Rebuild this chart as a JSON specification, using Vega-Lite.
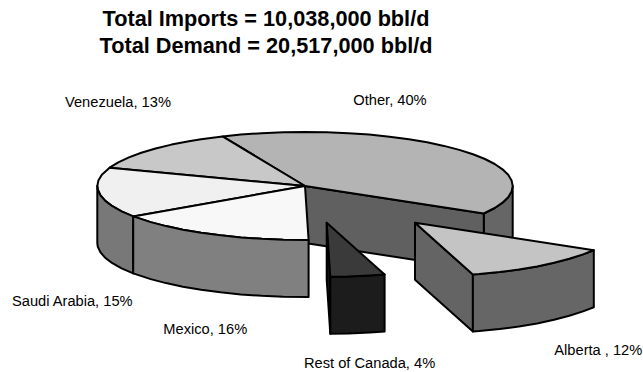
{
"$schema":"https://vega.github.io/schema/vega-lite/v6.json",
"width":643,"height":372,"padding":0,"autosize":{"type":"none"},
"background":"white",
"title":{"text":["Total Imports = 10,038,000 bbl/d","Total Demand = 20,517,000 bbl/d"],"font":"Liberation Sans","fontSize":21.7,"fontWeight":"bold","color":"#000000","anchor":"start","frame":"group","dx":266,"dy":79,"lineHeight":27.6,"align":"center","baseline":"alphabetic"},
"config":{"view":{"stroke":null}},
"datasets":{
"faces":[
{"face":"Other rim","v":0,"x":512.7,"y":186},{"face":"Other rim","v":1,"x":511.6,"y":191.6},{"face":"Other rim","v":2,"x":508.2,"y":197.2},{"face":"Other rim","v":3,"x":502.5,"y":202.7},{"face":"Other rim","v":4,"x":494.7,"y":208},{"face":"Other rim","v":5,"x":483.8,"y":213.5},{"face":"Other rim","v":6,"x":483.8,"y":270.5},{"face":"Other rim","v":7,"x":494.7,"y":265},{"face":"Other rim","v":8,"x":502.5,"y":259.7},{"face":"Other rim","v":9,"x":508.2,"y":254.2},{"face":"Other rim","v":10,"x":511.6,"y":248.6},{"face":"Other rim","v":11,"x":512.7,"y":243},
{"face":"Other cut","v":0,"x":305,"y":186},{"face":"Other cut","v":1,"x":483.8,"y":213.5},{"face":"Other cut","v":2,"x":483.8,"y":270.5},{"face":"Other cut","v":3,"x":305,"y":243},
{"face":"Other top","v":0,"x":305,"y":186},{"face":"Other top","v":1,"x":222.5,"y":136.4},{"face":"Other top","v":2,"x":240.8,"y":134.6},{"face":"Other top","v":3,"x":261.8,"y":133.2},{"face":"Other top","v":4,"x":283.3,"y":132.3},{"face":"Other top","v":5,"x":305,"y":132},{"face":"Other top","v":6,"x":326.7,"y":132.3},{"face":"Other top","v":7,"x":348.2,"y":133.2},{"face":"Other top","v":8,"x":369.2,"y":134.6},{"face":"Other top","v":9,"x":389.5,"y":136.7},{"face":"Other top","v":10,"x":408.9,"y":139.2},{"face":"Other top","v":11,"x":427.1,"y":142.3},{"face":"Other top","v":12,"x":444,"y":145.9},{"face":"Other top","v":13,"x":459.3,"y":149.9},{"face":"Other top","v":14,"x":473,"y":154.3},{"face":"Other top","v":15,"x":484.9,"y":159},{"face":"Other top","v":16,"x":494.7,"y":164},{"face":"Other top","v":17,"x":502.5,"y":169.3},{"face":"Other top","v":18,"x":508.2,"y":174.8},{"face":"Other top","v":19,"x":511.6,"y":180.4},{"face":"Other top","v":20,"x":512.7,"y":186},{"face":"Other top","v":21,"x":511.6,"y":191.6},{"face":"Other top","v":22,"x":508.2,"y":197.2},{"face":"Other top","v":23,"x":502.5,"y":202.7},{"face":"Other top","v":24,"x":494.7,"y":208},{"face":"Other top","v":25,"x":483.8,"y":213.5},
{"face":"Venezuela top","v":0,"x":305,"y":186},{"face":"Venezuela top","v":1,"x":109.6,"y":167.7},{"face":"Venezuela top","v":2,"x":118.3,"y":162.3},{"face":"Venezuela top","v":3,"x":128.9,"y":157.4},{"face":"Venezuela top","v":4,"x":141.3,"y":152.8},{"face":"Venezuela top","v":5,"x":155.6,"y":148.5},{"face":"Venezuela top","v":6,"x":171.5,"y":144.6},{"face":"Venezuela top","v":7,"x":188.9,"y":141.2},{"face":"Venezuela top","v":8,"x":201.1,"y":139.2},{"face":"Venezuela top","v":9,"x":222.5,"y":136.4},
{"face":"Saudi top","v":0,"x":305,"y":186},{"face":"Saudi top","v":1,"x":133.2,"y":216.4},{"face":"Saudi top","v":2,"x":121.6,"y":211.4},{"face":"Saudi top","v":3,"x":112.4,"y":206.2},{"face":"Saudi top","v":4,"x":105.3,"y":200.9},{"face":"Saudi top","v":5,"x":100.5,"y":195.4},{"face":"Saudi top","v":6,"x":97.8,"y":189.8},{"face":"Saudi top","v":7,"x":97.3,"y":186},{"face":"Saudi top","v":8,"x":98.4,"y":180.4},{"face":"Saudi top","v":9,"x":101.8,"y":174.8},{"face":"Saudi top","v":10,"x":109.6,"y":167.7},
{"face":"Mexico top","v":0,"x":305,"y":186},{"face":"Mexico top","v":1,"x":308.6,"y":240},{"face":"Mexico top","v":2,"x":283.3,"y":239.7},{"face":"Mexico top","v":3,"x":261.8,"y":238.8},{"face":"Mexico top","v":4,"x":240.8,"y":237.4},{"face":"Mexico top","v":5,"x":220.5,"y":235.3},{"face":"Mexico top","v":6,"x":201.1,"y":232.8},{"face":"Mexico top","v":7,"x":182.9,"y":229.7},{"face":"Mexico top","v":8,"x":166,"y":226.1},{"face":"Mexico top","v":9,"x":150.7,"y":222.1},{"face":"Mexico top","v":10,"x":133.2,"y":216.4},
{"face":"Saudi rim","v":0,"x":133.2,"y":216.4},{"face":"Saudi rim","v":1,"x":121.6,"y":211.4},{"face":"Saudi rim","v":2,"x":112.4,"y":206.2},{"face":"Saudi rim","v":3,"x":105.3,"y":200.9},{"face":"Saudi rim","v":4,"x":100.5,"y":195.4},{"face":"Saudi rim","v":5,"x":97.8,"y":189.8},{"face":"Saudi rim","v":6,"x":97.3,"y":186},{"face":"Saudi rim","v":7,"x":97.3,"y":243},{"face":"Saudi rim","v":8,"x":97.8,"y":246.8},{"face":"Saudi rim","v":9,"x":100.5,"y":252.4},{"face":"Saudi rim","v":10,"x":105.3,"y":257.9},{"face":"Saudi rim","v":11,"x":112.4,"y":263.2},{"face":"Saudi rim","v":12,"x":121.6,"y":268.4},{"face":"Saudi rim","v":13,"x":133.2,"y":273.4},
{"face":"Mexico rim","v":0,"x":308.6,"y":240},{"face":"Mexico rim","v":1,"x":283.3,"y":239.7},{"face":"Mexico rim","v":2,"x":261.8,"y":238.8},{"face":"Mexico rim","v":3,"x":240.8,"y":237.4},{"face":"Mexico rim","v":4,"x":220.5,"y":235.3},{"face":"Mexico rim","v":5,"x":201.1,"y":232.8},{"face":"Mexico rim","v":6,"x":182.9,"y":229.7},{"face":"Mexico rim","v":7,"x":166,"y":226.1},{"face":"Mexico rim","v":8,"x":150.7,"y":222.1},{"face":"Mexico rim","v":9,"x":133.2,"y":216.4},{"face":"Mexico rim","v":10,"x":133.2,"y":273.4},{"face":"Mexico rim","v":11,"x":150.7,"y":279.1},{"face":"Mexico rim","v":12,"x":166,"y":283.1},{"face":"Mexico rim","v":13,"x":182.9,"y":286.7},{"face":"Mexico rim","v":14,"x":201.1,"y":289.8},{"face":"Mexico rim","v":15,"x":220.5,"y":292.3},{"face":"Mexico rim","v":16,"x":240.8,"y":294.4},{"face":"Mexico rim","v":17,"x":261.8,"y":295.8},{"face":"Mexico rim","v":18,"x":283.3,"y":296.7},{"face":"Mexico rim","v":19,"x":308.6,"y":297},
{"face":"Canada cut","v":0,"x":326.7,"y":222.7},{"face":"Canada cut","v":1,"x":330.3,"y":276.7},{"face":"Canada cut","v":2,"x":330.3,"y":333.7},{"face":"Canada cut","v":3,"x":326.7,"y":279.7},
{"face":"Canada rim","v":0,"x":384.6,"y":274.6},{"face":"Canada rim","v":1,"x":369.9,"y":275.5},{"face":"Canada rim","v":2,"x":348.4,"y":276.4},{"face":"Canada rim","v":3,"x":330.3,"y":276.7},{"face":"Canada rim","v":4,"x":330.3,"y":333.7},{"face":"Canada rim","v":5,"x":348.4,"y":333.4},{"face":"Canada rim","v":6,"x":369.9,"y":332.5},{"face":"Canada rim","v":7,"x":384.6,"y":331.6},
{"face":"Canada top","v":0,"x":326.7,"y":222.7},{"face":"Canada top","v":1,"x":384.6,"y":274.6},{"face":"Canada top","v":2,"x":369.9,"y":275.5},{"face":"Canada top","v":3,"x":348.4,"y":276.4},{"face":"Canada top","v":4,"x":330.3,"y":276.7},
{"face":"Alberta cut","v":0,"x":415,"y":222.7},{"face":"Alberta cut","v":1,"x":472.9,"y":274.6},{"face":"Alberta cut","v":2,"x":472.9,"y":331.6},{"face":"Alberta cut","v":3,"x":415,"y":279.7},
{"face":"Alberta rim","v":0,"x":593.8,"y":250.2},{"face":"Alberta rim","v":1,"x":583,"y":254.4},{"face":"Alberta rim","v":2,"x":569.3,"y":258.8},{"face":"Alberta rim","v":3,"x":554,"y":262.8},{"face":"Alberta rim","v":4,"x":537.1,"y":266.4},{"face":"Alberta rim","v":5,"x":518.9,"y":269.5},{"face":"Alberta rim","v":6,"x":499.5,"y":272},{"face":"Alberta rim","v":7,"x":479.2,"y":274.1},{"face":"Alberta rim","v":8,"x":472.9,"y":274.6},{"face":"Alberta rim","v":9,"x":472.9,"y":331.6},{"face":"Alberta rim","v":10,"x":479.2,"y":331.1},{"face":"Alberta rim","v":11,"x":499.5,"y":329},{"face":"Alberta rim","v":12,"x":518.9,"y":326.5},{"face":"Alberta rim","v":13,"x":537.1,"y":323.4},{"face":"Alberta rim","v":14,"x":554,"y":319.8},{"face":"Alberta rim","v":15,"x":569.3,"y":315.8},{"face":"Alberta rim","v":16,"x":583,"y":311.4},{"face":"Alberta rim","v":17,"x":593.8,"y":307.2},
{"face":"Alberta top","v":0,"x":415,"y":222.7},{"face":"Alberta top","v":1,"x":593.8,"y":250.2},{"face":"Alberta top","v":2,"x":583,"y":254.4},{"face":"Alberta top","v":3,"x":569.3,"y":258.8},{"face":"Alberta top","v":4,"x":554,"y":262.8},{"face":"Alberta top","v":5,"x":537.1,"y":266.4},{"face":"Alberta top","v":6,"x":518.9,"y":269.5},{"face":"Alberta top","v":7,"x":499.5,"y":272},{"face":"Alberta top","v":8,"x":479.2,"y":274.1},{"face":"Alberta top","v":9,"x":472.9,"y":274.6}
],
"labels":[
{"label":"Venezuela, 13%","x":65,"y":107},
{"label":"Other, 40%","x":353.3,"y":105},
{"label":"Alberta , 12%","x":554.3,"y":355},
{"label":"Rest of Canada, 4%","x":304,"y":368.3},
{"label":"Mexico, 16%","x":163.3,"y":334},
{"label":"Saudi Arabia, 15%","x":12,"y":306}
]
},
"layer":[
{"data":{"name":"faces"},
"mark":{"type":"line","interpolate":"linear-closed","stroke":"#000000","strokeWidth":2,"strokeJoin":"round"},
"encoding":{
"x":{"field":"x","type":"quantitative","scale":{"domain":[0,643],"nice":false,"zero":false},"axis":null},
"y":{"field":"y","type":"quantitative","scale":{"domain":[372,0],"nice":false,"zero":false},"axis":null},
"order":{"field":"v","type":"quantitative"},
"fill":{"field":"face","type":"nominal","legend":null,"scale":{
"domain":["Other rim","Other cut","Other top","Venezuela top","Saudi top","Mexico top","Saudi rim","Mexico rim","Canada cut","Canada rim","Canada top","Alberta cut","Alberta rim","Alberta top"],
"range":["#666666","#606060","#b4b4b4","#c8c8c8","#f0f0f0","#f8f8f8","#787878","#808080","#111111","#1c1c1c","#3a3a3a","#646464","#666666","#c4c4c4"]}}
}},
{"data":{"name":"labels"},
"mark":{"type":"text","font":"Liberation Sans","fontSize":14.67,"align":"left","baseline":"alphabetic","color":"#000000"},
"encoding":{
"x":{"field":"x","type":"quantitative"},
"y":{"field":"y","type":"quantitative"},
"text":{"field":"label","type":"nominal"}
}}
]
}
